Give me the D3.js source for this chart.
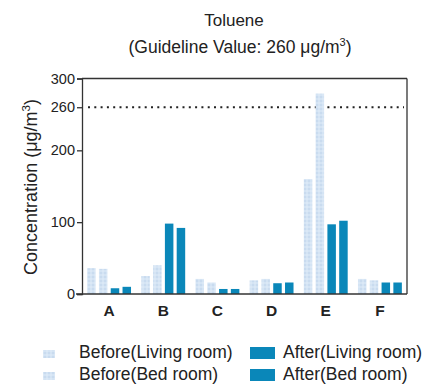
<!DOCTYPE html>
<html><head><meta charset="utf-8">
<script src="https://cdn.jsdelivr.net/npm/d3@7"></script>
<style>body{margin:0;background:#fff;} svg{display:block;font-family:"Liberation Sans",Arial,sans-serif;}</style>
</head><body>
<svg id="c" width="426" height="387"></svg>
<script>
const categories = ["A","B","C","D","E","F"];
const seriesNames = ["Before(Living room)","Before(Bed room)","After(Living room)","After(Bed room)"];
const beforeLiving = [36, 25, 21, 19, 160, 21];
const beforeBed    = [35, 40, 16, 21, 279, 19];
const afterLiving  = [8, 98, 7, 15, 97, 16];
const afterBed     = [10, 92, 7, 16, 102, 16];
const yTicks = [0, 100, 200, 260, 300];
const guideline = 260;

(function(){
const series = [beforeLiving, beforeBed, afterLiving, afterBed];
const colors = ["#d5e5f4", "#d3e3f3", "#0a87b9", "#0a87b9"];

const svg = d3.select("#c");
const defs = svg.append("defs");
const pat = defs.append("pattern").attr("id","tex").attr("width",4).attr("height",4).attr("patternUnits","userSpaceOnUse");
pat.append("rect").attr("width",4).attr("height",4).attr("fill","#d4e4f4");
pat.append("rect").attr("x",0).attr("y",0).attr("width",2).attr("height",2).attr("fill","#c9dbef");
pat.append("rect").attr("x",2).attr("y",2).attr("width",2).attr("height",2).attr("fill","#dbe8f6");

const mL = 82, mR = 407, mT = 78.5, mB = 294;
const x = d3.scaleBand().domain(categories).range([mL, mR]).paddingInner(0.19).paddingOuter(0.095);
const x1 = d3.scaleBand().domain(d3.range(4)).range([0, x.bandwidth()]).paddingInner(0.28);
const y = d3.scaleLinear().domain([0, 300]).range([mB, mT]);

// title
svg.append("text").attr("x", 234).attr("y", 26).attr("text-anchor","middle").attr("font-size",17).attr("fill","#222").text("Toluene");
const sub = svg.append("text").attr("x", 240).attr("y", 53).attr("text-anchor","middle").attr("font-size",17.5).attr("fill","#222");
sub.append("tspan").text("(Guideline Value: 260 μg/m");
sub.append("tspan").attr("dy",-7).attr("font-size",11).text("3");
sub.append("tspan").attr("dy",7).text(")");

// guideline
svg.append("line").attr("x1", mL+6).attr("x2", mR-3).attr("y1", y(guideline)).attr("y2", y(guideline))
  .attr("stroke","#222").attr("stroke-width",2).attr("stroke-dasharray","2,4.3");

// bars
const g = svg.append("g");
categories.forEach((c, i) => {
  series.forEach((s, k) => {
    g.append("rect")
      .attr("x", x(c) + x1(k)).attr("width", x1.bandwidth())
      .attr("y", y(s[i])).attr("height", y(0) - y(s[i]))
      .attr("fill", k < 2 ? "url(#tex)" : colors[k]);
  });
});

// frame top & right
svg.append("line").attr("x1",mL).attr("x2",mR).attr("y1",mT).attr("y2",mT).attr("stroke","#333").attr("stroke-width",1.3);
svg.append("line").attr("x1",mR).attr("x2",mR).attr("y1",mT).attr("y2",mB).attr("stroke","#333").attr("stroke-width",1.3);

// y axis
const ya = svg.append("g").attr("transform",`translate(${mL},0)`)
  .call(d3.axisLeft(y).tickValues(yTicks).tickSize(5).tickPadding(2));
ya.selectAll("text").attr("font-size",14.5).attr("fill","#222").style("font-family","Liberation Sans, Arial, sans-serif");
ya.selectAll("line,path").attr("stroke","#333").attr("stroke-width",1.3);

// x axis
const xa = svg.append("g").attr("transform",`translate(0,${mB})`)
  .call(d3.axisBottom(x).tickSize(0).tickPadding(11));
xa.select("path").attr("d", `M${mL-6},0H${mR}`).attr("stroke","#333").attr("stroke-width",1.3);
xa.selectAll("text").attr("font-size",15.5).attr("font-weight","bold").attr("fill","#222").style("font-family","Liberation Sans, Arial, sans-serif");

// y label
const yl = svg.append("text").attr("transform","translate(37,187) rotate(-90)").attr("text-anchor","middle").attr("font-size",18).attr("fill","#222");
yl.append("tspan").text("Concentration (μg/m");
yl.append("tspan").attr("dy",-7).attr("font-size",11.5).text("3");
yl.append("tspan").attr("dy",7).text(")");

// legend
const legPos = [[43,358],[43,380],[250,358],[250,380]];
seriesNames.forEach((n, k) => {
  const [lx, ly] = legPos[k];
  if (k < 2) {
    svg.append("rect").attr("x", lx).attr("y", ly-8).attr("width", 12).attr("height", 8).attr("fill", "url(#tex)");
  } else {
    svg.append("rect").attr("x", lx).attr("y", ly-11).attr("width", 25).attr("height", 12).attr("fill", colors[k]);
  }
  svg.append("text").attr("x", k<2 ? 79 : 283).attr("y", ly).attr("font-size",17.5).attr("fill","#222").text(n);
});
})();
</script>
</body></html>
